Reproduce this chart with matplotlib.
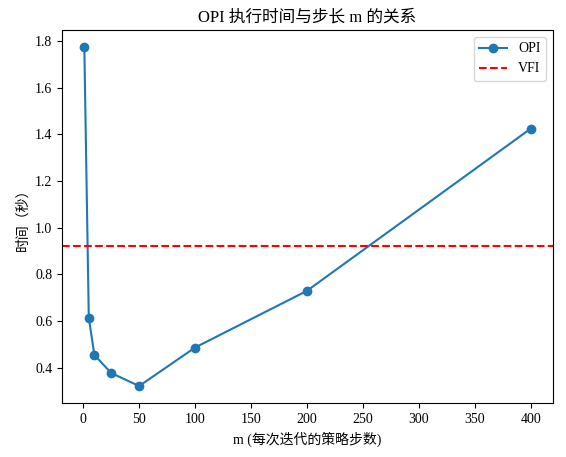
import matplotlib
matplotlib.use("Agg")
import matplotlib.pyplot as plt

plt.rcParams['font.family'] = ['Liberation Serif', 'Noto Sans CJK SC', 'DejaVu Sans']

m_values = [1, 5, 10, 25, 50, 100, 200, 400]
opi_times = [1.775, 0.615, 0.455, 0.378, 0.322, 0.487, 0.730, 1.425]
vfi_time = 0.92

fig = plt.figure(figsize=(5.66, 4.57), dpi=100)
ax = fig.add_axes([62 / 566, 1 - 403 / 457, (553 - 62) / 566, (403 - 30) / 457])
ax.plot(m_values, opi_times, marker='o', label='OPI')
ax.axhline(vfi_time, color='red', linestyle='--', label='VFI')
ax.set_xlabel('m (每次迭代的策略步数)')
ax.set_ylabel('时间（秒）')
ax.set_title('OPI 执行时间与步长 m 的关系')
ax.legend()
fig.savefig('out.png')
